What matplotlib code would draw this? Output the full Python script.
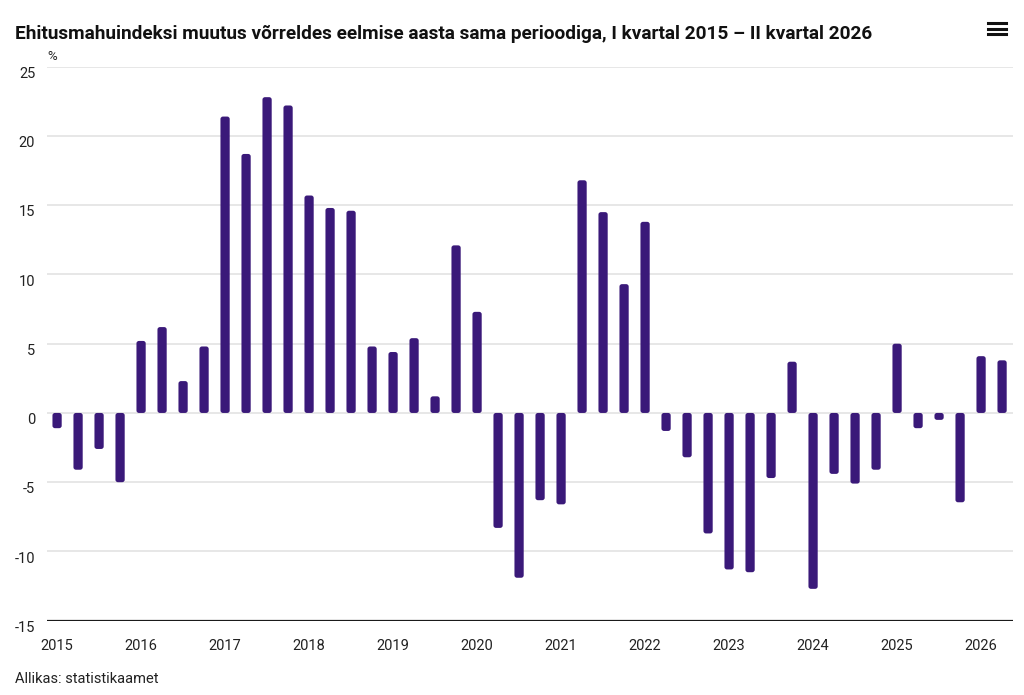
import matplotlib
matplotlib.use("Agg")
import matplotlib.pyplot as plt
from matplotlib.patches import FancyBboxPatch
from matplotlib.transforms import ScaledTranslation

# ---------------------------------------------------------------------------
# Andmed: ehitusmahuindeksi muutus (%) kvartalite kaupa, I kv 2015 - II kv 2026
# ---------------------------------------------------------------------------
years = [str(y) for y in range(2015, 2027)]
values = [
    -1.1, -4.1, -2.6, -5.0,      # 2015
    5.2, 6.2, 2.3, 4.8,          # 2016
    21.4, 18.7, 22.8, 22.2,      # 2017
    15.7, 14.8, 14.6, 4.8,       # 2018
    4.4, 5.4, 1.2, 12.1,         # 2019
    7.3, -8.3, -11.9, -6.3,      # 2020
    -6.6, 16.8, 14.5, 9.3,       # 2021
    13.8, -1.3, -3.2, -8.7,      # 2022
    -11.3, -11.5, -4.7, 3.7,     # 2023
    -12.7, -4.4, -5.1, -4.1,     # 2024
    5.0, -1.1, -0.5, -6.45,      # 2025
    4.1, 3.8,                    # 2026
]
y_ticks = [25, 20, 15, 10, 5, 0, -5, -10, -15]

title = ("Ehitusmahuindeksi muutus võrreldes eelmise aasta sama perioodiga, "
         "I kvartal 2015 – II kvartal 2026")
source = "Allikas: statistikaamet"

bar_color = "#3a1979"

plt.rcParams["font.family"] = ["Roboto", "DejaVu Sans"]

fig = plt.figure(figsize=(10.24, 6.95), dpi=100)
ax = fig.add_axes([47 / 1024, 1 - 620.7 / 695, 966 / 1024, 554 / 695])

ax.set_xlim(-0.48, len(values) - 0.48)
ax.set_ylim(-15, 25)

# tulbad ümarate nurkadega
bar_w = 0.44
for i, v in enumerate(values):
    y0 = min(0, v)
    h = abs(v)
    patch = FancyBboxPatch(
        (i - bar_w / 2, y0), bar_w, h,
        boxstyle="round,pad=0,rounding_size=0.12",
        mutation_aspect=1.5,
        facecolor=bar_color, edgecolor="none", zorder=3,
    )
    ax.add_patch(patch)

# ruudustik
for t in y_ticks[:-1]:
    ax.axhline(t, color="#e3e3e3", linewidth=1.2, zorder=1)
ax.axhline(-15, color="#1a1a1a", linewidth=1.6, zorder=4)

for s in ax.spines.values():
    s.set_visible(False)

ax.set_yticks(y_ticks)
ax.set_yticklabels([str(t) for t in y_ticks])
ax.tick_params(axis="y", length=0, pad=8.5, labelsize=10.5, labelcolor="#222222")
offset = ScaledTranslation(0, -4 / 72, fig.dpi_scale_trans)
for lab in ax.get_yticklabels():
    lab.set_transform(lab.get_transform() + offset)

ax.set_xticks(range(0, len(values), 4))
ax.set_xticklabels(years)
ax.tick_params(axis="x", length=0, pad=13, labelsize=10.5, labelcolor="#222222")

# pealkiri, ühik, allikas
fig.text(15 / 1024, 1 - 34 / 695, title, fontsize=13.7, fontweight="bold",
         va="center", ha="left", color="#111111")
fig.text(47 / 1024, 1 - 57 / 695, "%", fontsize=9.5, va="center", ha="left",
         color="#222222")
fig.text(15 / 1024, 1 - 679 / 695, source, fontsize=10.5, va="center",
         ha="left", color="#222222")

# menüü ikoon
for yy in (23, 28.5, 34):
    fig.add_artist(plt.Line2D([988 / 1024, 1006 / 1024],
                              [1 - yy / 695, 1 - yy / 695],
                              color="#111111", linewidth=2.2))

fig.savefig("out.png", dpi=100, facecolor="white")
